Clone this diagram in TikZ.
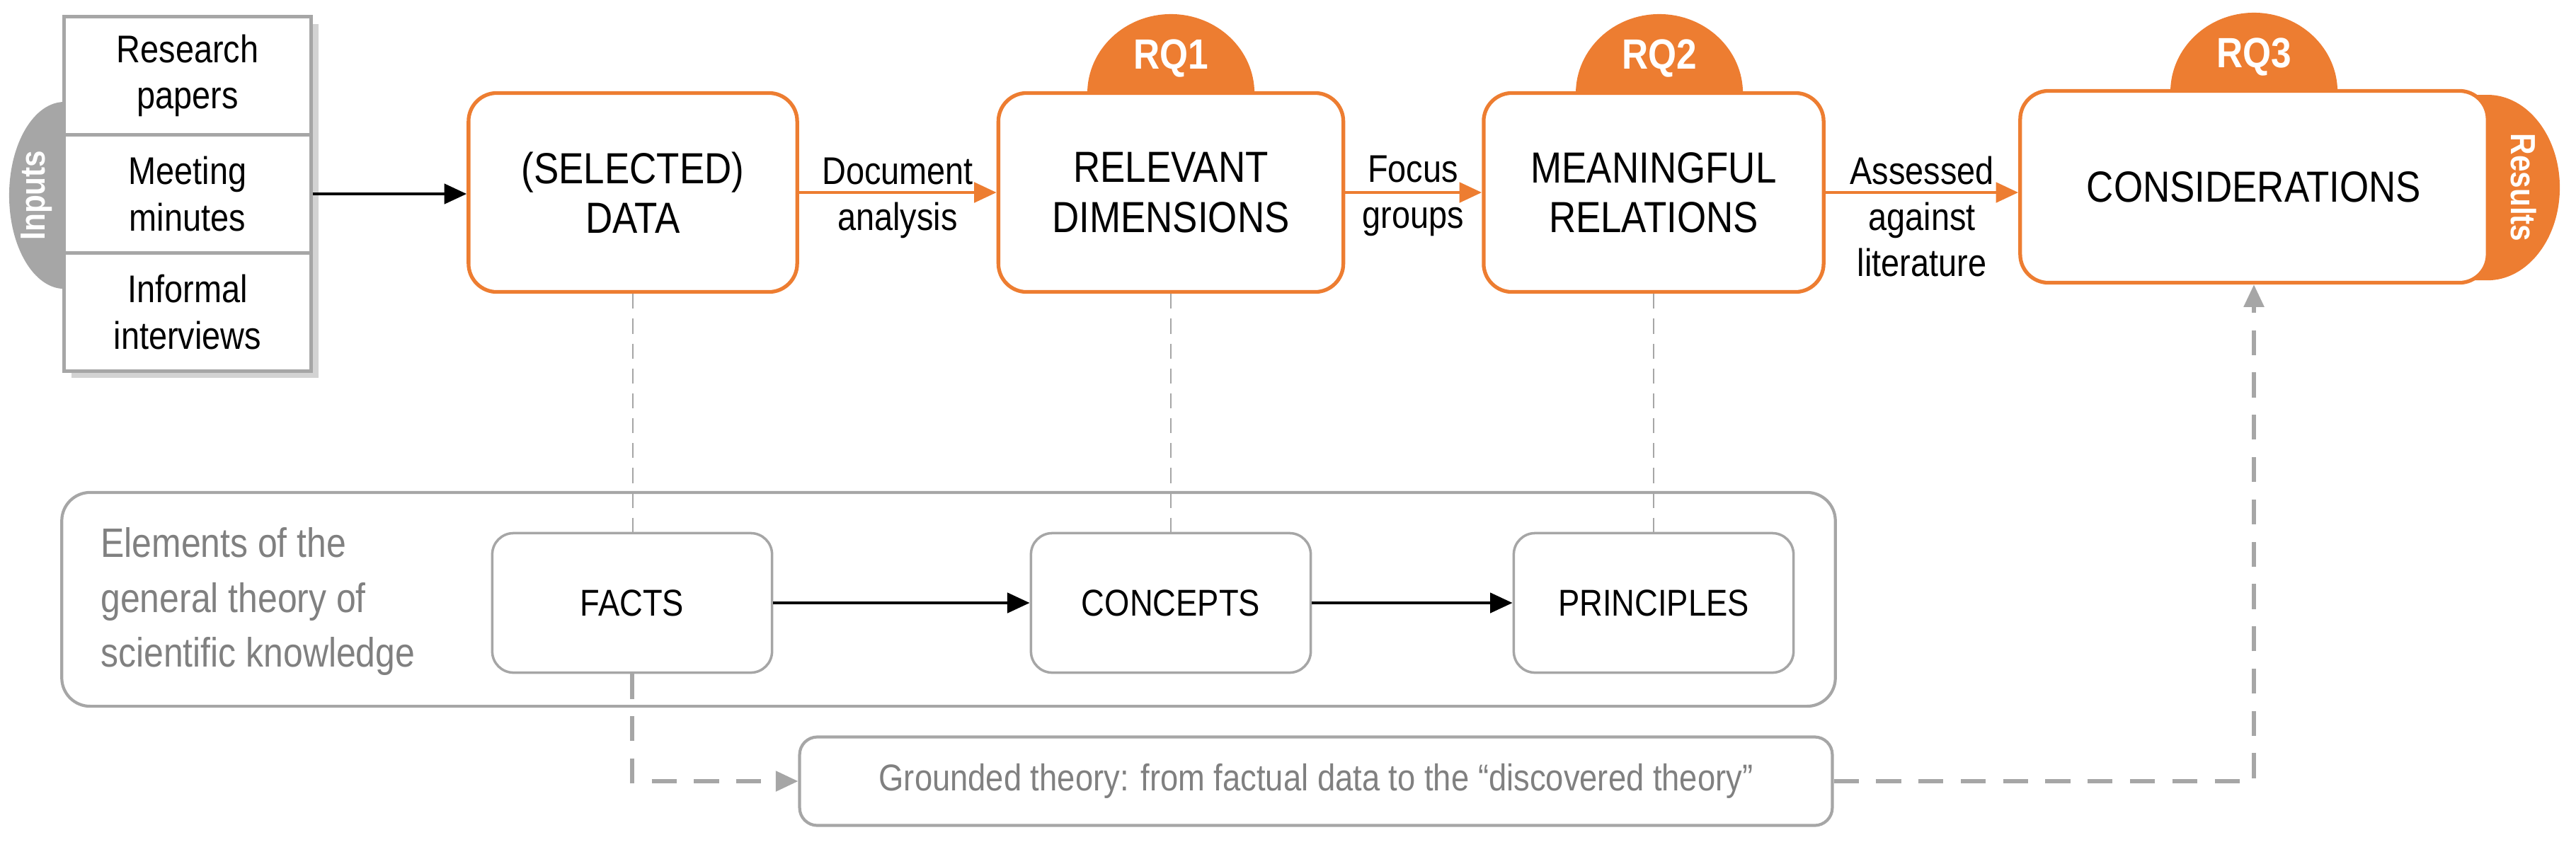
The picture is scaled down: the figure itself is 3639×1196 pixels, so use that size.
\documentclass[tikz,border=0pt]{standalone}
\usepackage{fontspec}
\setmainfont{Liberation Sans}[FakeStretch=0.86]
\usetikzlibrary{arrows.meta,calc}
\definecolor{org}{HTML}{ED7D31}
\definecolor{gry}{HTML}{A6A6A6}
\definecolor{gtx}{HTML}{808080}
\begin{document}
\begin{tikzpicture}[x=0.01cm,y=-0.01cm,
  mainbox/.style={draw=org,line width=1.5pt,fill=white,rounded corners=0.4cm,align=center,font=\fontsize{17.5}{20}\selectfont},
  inbox/.style={draw=gry,line width=1.2pt,fill=white,minimum width=3.49cm,minimum height=1.67cm,align=center,font=\fontsize{15.5}{18.5}\selectfont},
  elbox/.style={draw=gry,line width=1pt,fill=white,rounded corners=0.3cm,minimum width=3.95cm,minimum height=1.97cm,font=\fontsize{15}{18}\selectfont},
  lbl/.style={align=center,font=\fontsize{15.5}{18.5}\selectfont},
  oarr/.style={draw=org,line width=1.4pt,-{Triangle[length=9pt,width=8pt]}},
  barr/.style={draw=black,line width=1.3pt,-{Triangle[length=9pt,width=8pt]}},
  rq/.style={text=white,font=\fontsize{17}{20}\bfseries}]
\useasboundingbox (0,0) rectangle (3639,1196);
% inputs
\fill[gry] (91,144) arc[start angle=90,end angle=270,x radius=0.78cm,y radius=1.32cm] -- cycle;
\node[rotate=90,text=white,font=\fontsize{14}{16}\bfseries\selectfont] at (52,276) {Inputs};
\fill[gry!50] (101,34) rectangle (450,534);
\node[inbox] (inp1) at (265,107) {Research\\papers};
\node[inbox] (inp2) at (265,274) {Meeting\\minutes};
\node[inbox] (inp3) at (265,441) {Informal\\interviews};
% RQ caps and results
\fill[org] (1536,132) arc[start angle=180,end angle=0,x radius=1.18cm,y radius=1.12cm] -- cycle;
\fill[org] (2226,132) arc[start angle=180,end angle=0,x radius=1.18cm,y radius=1.12cm] -- cycle;
\fill[org] (3066,130) arc[start angle=180,end angle=0,x radius=1.18cm,y radius=1.12cm] -- cycle;
\fill[org] (3480,134) -- (3514,134) arc[start angle=90,end angle=-90,x radius=1.02cm,y radius=1.31cm] -- (3480,396) -- cycle;
\node[rq] at (1654,82) {RQ1};
\node[rq] at (2344,82) {RQ2};
\node[rq] at (3184,80) {RQ3};
\node[rotate=-90,text=white,font=\fontsize{14}{16}\bfseries\selectfont] at (3565,265) {Results};
% main boxes
\node[mainbox,minimum width=4.64cm,minimum height=2.81cm] (data) at (894,272) {(SELECTED)\\DATA};
\node[mainbox,minimum width=4.87cm,minimum height=2.81cm] (rel) at (1654,272) {RELEVANT\\DIMENSIONS};
\node[mainbox,minimum width=4.80cm,minimum height=2.81cm] (mea) at (2336,272) {MEANINGFUL\\RELATIONS};
\node[mainbox,minimum width=6.60cm,minimum height=2.71cm] (con) at (3184,264) {CONSIDERATIONS};
\draw[barr] (inp2.east) -- (data.west |- inp2.east);
\draw[oarr] (data.east) -- (rel.west);
\draw[oarr] (rel.east) -- (mea.west);
\draw[oarr] (mea.east) -- (mea.east -| con.west);
\node[lbl] at (1268,280) {Document\\analysis};
\node[lbl] at (1996,277) {Focus\\groups};
\node[lbl] at (2715,306) {Assessed\\against\\literature};
% bottom
\node[draw=gry,line width=1.2pt,rounded corners=0.4cm,minimum width=25.04cm,minimum height=3.02cm] (elem) at (1340,847) {};
\node[anchor=west,align=left,text=gtx,font=\fontsize{16.5}{22}\selectfont] (eltxt) at (130,850) {Elements of the\\general theory of\\scientific knowledge};
\node[elbox] (facts) at (893,852) {FACTS};
\node[elbox] (conc) at (1654,852) {CONCEPTS};
\node[elbox] (prin) at (2336,852) {PRINCIPLES};
\draw[barr] (facts.east) -- (conc.west);
\draw[barr] (conc.east) -- (prin.west);
\draw[gry,dash pattern=on 6pt off 4pt,line width=0.6pt] (data.south) -- (data.south |- facts.north);
\draw[gry,dash pattern=on 6pt off 4pt,line width=0.6pt] (rel.south) -- (rel.south |- conc.north);
\draw[gry,dash pattern=on 6pt off 4pt,line width=0.6pt] (mea.south) -- (mea.south |- prin.north);
\node[draw=gry,line width=1.2pt,rounded corners=0.25cm,minimum width=14.58cm,minimum height=1.25cm,text=gtx,font=\fontsize{15}{18}\selectfont] (gt) at (1859,1104) {Grounded theory: from factual data to the “discovered theory”};
\draw[gry,line width=1.5pt,dash pattern=on 10pt off 7pt,-{Triangle[length=9pt,width=8pt]}] (facts.south) |- (gt.west);
\draw[gry,line width=1.5pt,dash pattern=on 10pt off 7pt,-{Triangle[length=9pt,width=8pt]}] (gt.east) -| (con.south);
\end{tikzpicture}
\end{document}
